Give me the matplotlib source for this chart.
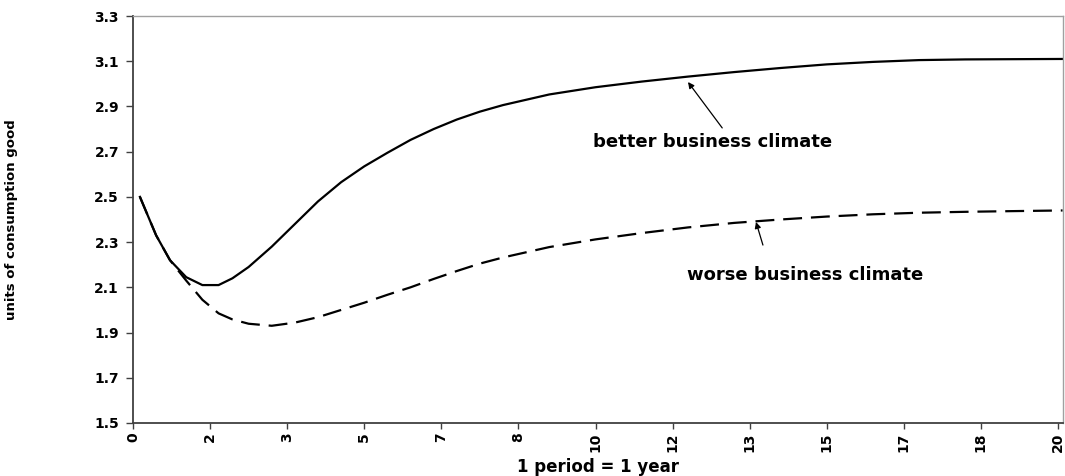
import matplotlib
matplotlib.use("Agg")
import matplotlib.pyplot as plt

# years and consumption for the two cases
years = [0.15, 0.5, 0.8, 1.15, 1.5, 1.85, 2.15, 2.5, 3.0, 3.5, 4.0, 4.5, 5.0,
         5.5, 6.0, 6.5, 7.0, 7.5, 8.0, 9.0, 10.0, 11.0, 12.0, 13.0, 14.0,
         15.0, 16.0, 17.0, 18.0, 19.0, 20.1]
better = [2.50, 2.33, 2.22, 2.145, 2.11, 2.11, 2.14, 2.19, 2.28, 2.38, 2.48,
          2.565, 2.635, 2.695, 2.752, 2.80, 2.842, 2.877, 2.906, 2.953, 2.985,
          3.01, 3.032, 3.052, 3.07, 3.086, 3.097, 3.105, 3.108, 3.109, 3.11]
worse = [2.50, 2.33, 2.22, 2.13, 2.045, 1.985, 1.958, 1.939, 1.930, 1.944,
         1.968, 2.0, 2.032, 2.067, 2.10, 2.137, 2.172, 2.205, 2.232, 2.278,
         2.312, 2.34, 2.365, 2.385, 2.40, 2.413, 2.423, 2.43, 2.434, 2.437, 2.44]

y_ticks = [1.5, 1.7, 1.9, 2.1, 2.3, 2.5, 2.7, 2.9, 3.1, 3.3]
x_ticks = [i * 20 / 12 for i in range(13)]
x_labels = [str(int(round(t))) for t in x_ticks]

fig = plt.figure(figsize=(10.65, 4.76), dpi=100)
ax = fig.add_axes([133 / 1065, 1 - 423 / 476, 930 / 1065, 407 / 476])

ax.plot(years, better, color="black", lw=1.6)
ax.plot(years, worse, color="black", lw=1.6, dashes=(8.5, 4))

ax.set_xlim(0, 20 * 930 / 925)
ax.set_ylim(1.5, 3.3)
ax.set_yticks(y_ticks)
ax.set_yticklabels([f"{v:.1f}" for v in y_ticks], fontsize=10, fontweight="bold")
ax.set_xticks(x_ticks)
ax.set_xticklabels(x_labels, rotation=90, fontsize=10, fontweight="bold")
ax.tick_params(axis="y", direction="out", length=5, width=1, pad=5, color="#404040")
ax.tick_params(axis="x", direction="out", length=4, width=1, pad=3, color="#404040")

for side in ("left", "bottom"):
    ax.spines[side].set_color("#404040")
    ax.spines[side].set_linewidth(1.3)
for side in ("top", "right"):
    ax.spines[side].set_color("#a0a0a0")
    ax.spines[side].set_linewidth(1.0)

ax.set_xlabel("1 period = 1 year", fontsize=12, fontweight="bold", labelpad=4)
ax.set_ylabel("units of consumption good", fontsize=9.5, fontweight="bold")
ax.yaxis.set_label_coords(-0.124, 0.5)

arrow = dict(arrowstyle="-|>", lw=0.9, color="black", mutation_scale=9,
             shrinkA=0, shrinkB=0)
ax.annotate("", xy=(12.0, 3.008), xytext=(12.74, 2.805), arrowprops=arrow)
ax.text(12.54, 2.742, "better business climate", fontsize=13, fontweight="bold",
        ha="center", va="center")
ax.annotate("", xy=(13.47, 2.389), xytext=(13.62, 2.287), arrowprops=arrow)
ax.text(14.53, 2.155, "worse business climate", fontsize=13, fontweight="bold",
        ha="center", va="center")

fig.savefig("out.png", dpi=100)
